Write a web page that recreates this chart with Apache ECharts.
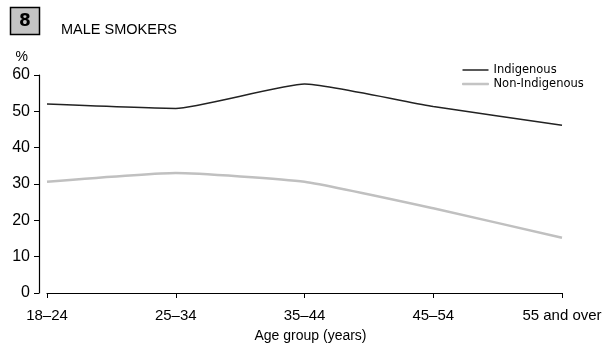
<!DOCTYPE html>
<html>
<head>
<meta charset="utf-8">
<style>html,body{margin:0;padding:0;background:#fff;}#main{width:602px;height:345px;}</style>
<script src="https://cdn.jsdelivr.net/npm/echarts@6/dist/echarts.min.js"></script>
</head>
<body>
<div id="main"></div>
<script>
const categories = ['18–24', '25–34', '35–44', '45–54', '55 and over'];
const indigenous = [52.0, 50.8, 57.5, 51.3, 46.2];
const nonIndigenous = [30.6, 33.0, 30.6, 23.3, 15.2];
const yTicks = [0, 10, 20, 30, 40, 50, 60];

const chart = echarts.init(document.getElementById('main'), null, {renderer: 'canvas'});
const font = 'Liberation Sans';
chart.setOption({
  animation: false,
  backgroundColor: '#fff',
  grid: {left: 47, right: 40, top: 75, bottom: 52, containLabel: false, outerBoundsMode: 'none'},
  graphic: [
    {type: 'rect', shape: {x: 10.5, y: 7.5, width: 29, height: 27}, style: {fill: '#c4c4c4', stroke: '#000', lineWidth: 1.5}},
    {type: 'text', x: 25, y: 21.5, style: {text: '8', font: 'bold 17px "DejaVu Sans"', fill: '#000', align: 'center', verticalAlign: 'middle'}},
    {type: 'text', x: 61, y: 29.5, style: {text: 'MALE SMOKERS', font: '14.5px "Liberation Sans Narrow", "Liberation Sans"', fill: '#000', align: 'left', verticalAlign: 'middle'}}
  ],
  legend: {
    orient: 'vertical', left: 457, top: 58, itemWidth: 26, itemHeight: 1.5, itemGap: 0,
    icon: 'rect',
    textStyle: {fontFamily: 'DejaVu Sans', fontSize: 11.5, color: '#000', lineHeight: 14},
    data: [
      {name: 'Indigenous', itemStyle: {color: '#222'}},
      {name: 'Non-Indigenous', itemStyle: {color: '#c0c0c0', borderColor: '#c0c0c0', borderWidth: 1}}
    ]
  },
  xAxis: {
    type: 'category', data: categories, boundaryGap: false, offset: 8,
    axisLine: {lineStyle: {color: '#000', width: 1.2}},
    axisTick: {show: true, length: 5, alignWithLabel: true, lineStyle: {color: '#000'}},
    axisLabel: {color: '#000', fontFamily: font, fontSize: 15, margin: 7, interval: 0},
    name: 'Age group (years)', nameLocation: 'middle', nameGap: 28,
    nameTextStyle: {color: '#000', fontFamily: font, fontSize: 14, padding: [0, 0, 0, 12]}
  },
  yAxis: {
    type: 'value', min: yTicks[0], max: yTicks[yTicks.length - 1], interval: 10, offset: 8,
    axisLine: {show: true, lineStyle: {color: '#000', width: 1.2}},
    axisTick: {show: true, length: 5, lineStyle: {color: '#000'}},
    axisLabel: {color: '#000', fontFamily: font, fontSize: 16, margin: 9},
    splitLine: {show: false},
    name: '%', nameLocation: 'end', nameGap: 11,
    nameTextStyle: {color: '#000', fontFamily: font, fontSize: 14, align: 'right', padding: [0, 11, 0, 0]}
  },
  series: [
    {name: 'Indigenous', type: 'line', data: indigenous, smooth: 0.15, symbol: 'none',
     lineStyle: {color: '#222', width: 1.5}, itemStyle: {color: '#222'}},
    {name: 'Non-Indigenous', type: 'line', data: nonIndigenous, smooth: 0.15, symbol: 'none',
     lineStyle: {color: '#c0c0c0', width: 2.5}, itemStyle: {color: '#c0c0c0'}}
  ]
});
</script>
</body>
</html>
